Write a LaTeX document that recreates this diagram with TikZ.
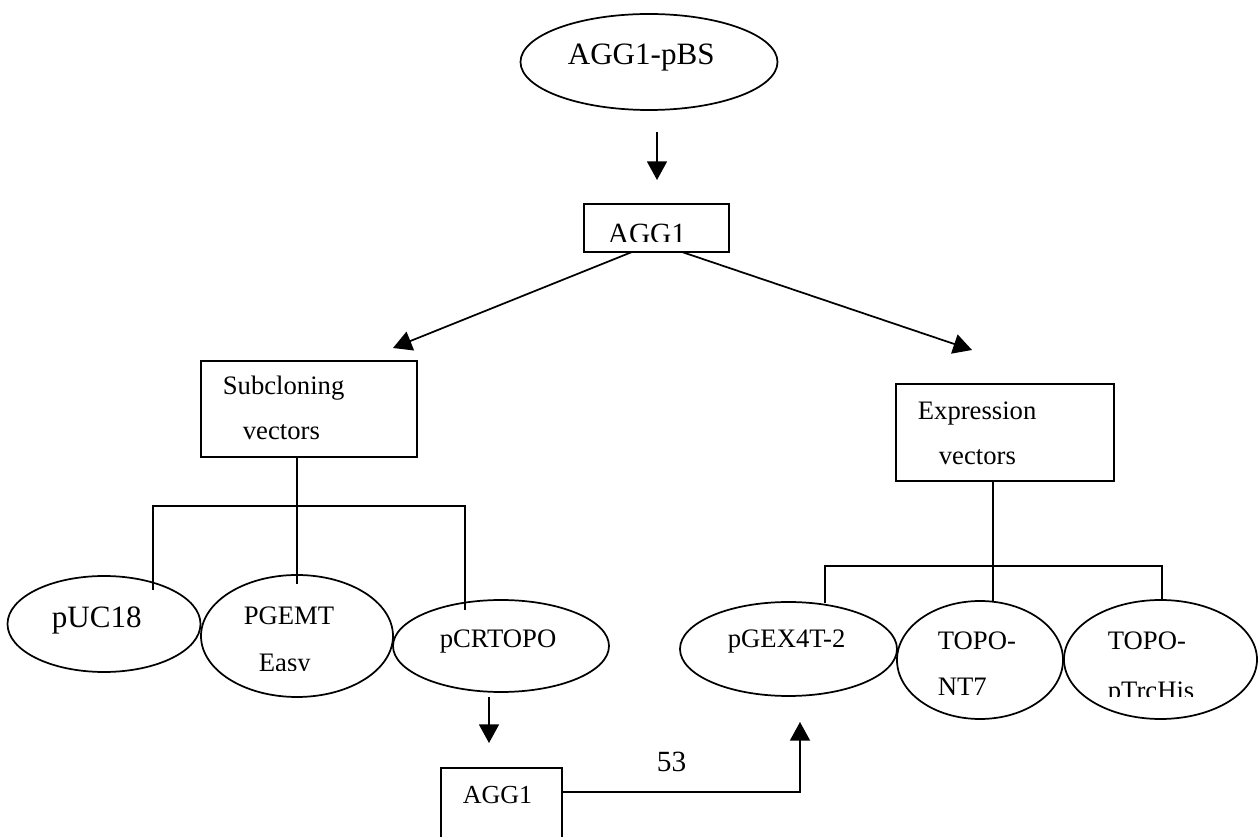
\documentclass[tikz,border=0pt]{standalone}
\usepackage{fontspec}
\setmainfont{Liberation Serif}
\usetikzlibrary{arrows.meta,shapes.geometric}
\begin{document}
\begin{tikzpicture}[x=0.75pt,y=-0.75pt,
  line width=1.3pt,
  oval/.style={draw,ellipse,inner sep=0pt},
  boxnode/.style={draw,rectangle,inner sep=0pt},
  txt/.style={inner sep=0pt,anchor=base west},
  big/.style={font=\fontsize{23.3}{27}\selectfont},
  mid/.style={font=\fontsize{22}{26}\selectfont},
  norm/.style={font=\fontsize{20}{24}\selectfont},
  arr/.style={-{Triangle[length=14pt,width=15pt]}}]
\useasboundingbox (0,0) rectangle (1258,837);
\clip (0,0) rectangle (1258,837);

% ellipses
\node[oval,minimum width=192.75pt,minimum height=72pt] (pbs) at (649,62) {};
\node[oval,minimum width=144.75pt,minimum height=72pt] (puc) at (104,624) {};
\node[oval,minimum width=144pt,minimum height=91.5pt] (pgemt) at (297,636) {};
\node[oval,minimum width=162pt,minimum height=69pt] (pcr) at (501,646) {};
\node[oval,minimum width=162.75pt,minimum height=70.5pt] (pgex) at (788.5,649) {};
\node[oval,minimum width=124.5pt,minimum height=88.5pt] (nt7) at (980,660) {};
\node[oval,minimum width=144.75pt,minimum height=89.25pt] (his) at (1160.5,659.5) {};

% boxes
\node[boxnode,minimum width=108.75pt,minimum height=36pt] (agg) at (656.5,228) {};
\node[boxnode,minimum width=162pt,minimum height=72pt] (sub) at (309,409) {};
\node[boxnode,minimum width=163.5pt,minimum height=72.75pt] (expr) at (1005,432.5) {};
\node[boxnode,minimum width=90.75pt,minimum height=76.5pt] (aggb) at (501.5,819) {};

% texts
\node[txt,big] (tpbs) at (567,65) {AGG1-pBS};
\begin{scope}
  \clip (580,200) rectangle (730,242);
  \node[txt,mid] (tagg) at (607,244) {AGG1};
\end{scope}
\node[txt,norm] (tsub1) at (222,395) {Subcloning};
\node[txt,norm] (tsub2) at (242,440) {vectors};
\node[txt,norm] (texp1) at (917,420) {Expression};
\node[txt,norm] (texp2) at (938,465) {vectors};
\node[txt,big] (tpuc) at (51,628) {pUC18};
\node[txt,norm] (tpg1) at (243,625) {PGEMT};
\begin{scope}
  \clip (240,640) rectangle (360,671);
  \node[txt,norm] (tpg2) at (258,672) {Easy};
\end{scope}
\node[txt,norm] (tpcr) at (439,648) {pCRTOPO};
\node[txt,norm] (tpgex) at (727,648) {pGEX4T-2};
\node[txt,norm] (tnt1) at (937,650) {TOPO-};
\node[txt,norm] (tnt2) at (937,696) {NT7};
\node[txt,norm] (this1) at (1107,650) {TOPO-};
\begin{scope}
  \clip (1090,660) rectangle (1250,696.5);
  \node[txt,norm] (this2) at (1107,699.5) {pTrcHis};
\end{scope}
\node[txt,font=\fontsize{19.5}{23}\selectfont] (taggb) at (462,804) {AGG1};
\node[txt,mid] (t53) at (656,772) {53};

% connector coordinates
\coordinate (a1s) at (657,132);
\coordinate (a1e) at (657,180);
\coordinate (aggL) at (632,252);
\coordinate (aggR) at (682,252);
\coordinate (subTip) at (393,348);
\coordinate (expTip) at (972,350);
\coordinate (subB) at (297,457);
\coordinate (barL1) at (153,506);
\coordinate (barL2) at (465,506);
\coordinate (pucT) at (153,590);
\coordinate (pgemtT) at (297,584);
\coordinate (pcrT) at (465,610);
\coordinate (expB) at (993,481);
\coordinate (barR1) at (825,566);
\coordinate (barR2) at (1162,566);
\coordinate (pgexT) at (825,603);
\coordinate (nt7T) at (993,601);
\coordinate (hisT) at (1162,600);
\coordinate (pcrB) at (489,697);
\coordinate (pcrTip) at (489,743);
\coordinate (aggbR) at (562,792);
\coordinate (pgexTip) at (800,722);

% connectors
\draw[arr] (a1s) -- (a1e);
\draw[arr] (aggL) -- (subTip);
\draw[arr] (aggR) -- (expTip);
\draw (subB) -- (pgemtT);
\draw (pucT) -- (barL1) -- (barL2) -- (pcrT);
\draw[line width=1.9pt] (224,506) -- (249,506);
\draw (expB) -- (nt7T);
\draw (pgexT) -- (barR1) -- (barR2) -- (hisT);
\draw[arr] (pcrB) -- (pcrTip);
\draw[arr] (aggbR) -| (pgexTip);
\end{tikzpicture}
\end{document}
